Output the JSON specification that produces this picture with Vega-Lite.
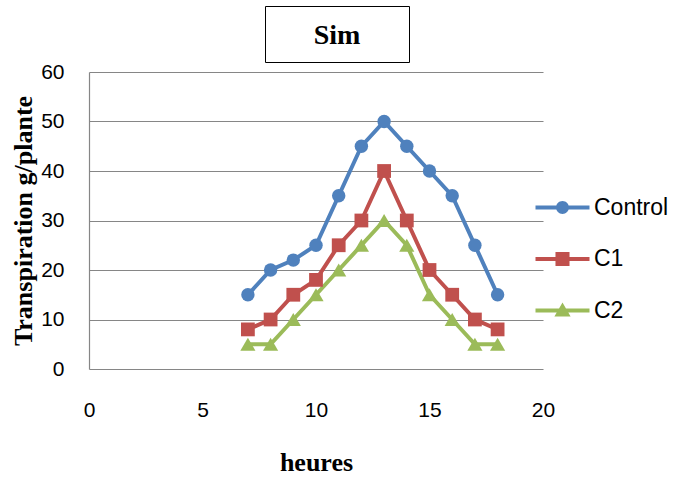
{
  "$schema": "https://vega.github.io/schema/vega-lite/v6.json",
  "width": 454,
  "height": 297,
  "autosize": {"type": "none"},
  "padding": {"left": 89, "top": 72, "right": 134, "bottom": 109},
  "background": "white",
  "config": {"view": {"stroke": null}},
  "data": {"values": [
    {"heures": 7, "val": 15, "serie": "Control"},
    {"heures": 8, "val": 20, "serie": "Control"},
    {"heures": 9, "val": 22, "serie": "Control"},
    {"heures": 10, "val": 25, "serie": "Control"},
    {"heures": 11, "val": 35, "serie": "Control"},
    {"heures": 12, "val": 45, "serie": "Control"},
    {"heures": 13, "val": 50, "serie": "Control"},
    {"heures": 14, "val": 45, "serie": "Control"},
    {"heures": 15, "val": 40, "serie": "Control"},
    {"heures": 16, "val": 35, "serie": "Control"},
    {"heures": 17, "val": 25, "serie": "Control"},
    {"heures": 18, "val": 15, "serie": "Control"},
    {"heures": 7, "val": 8, "serie": "C1"},
    {"heures": 8, "val": 10, "serie": "C1"},
    {"heures": 9, "val": 15, "serie": "C1"},
    {"heures": 10, "val": 18, "serie": "C1"},
    {"heures": 11, "val": 25, "serie": "C1"},
    {"heures": 12, "val": 30, "serie": "C1"},
    {"heures": 13, "val": 40, "serie": "C1"},
    {"heures": 14, "val": 30, "serie": "C1"},
    {"heures": 15, "val": 20, "serie": "C1"},
    {"heures": 16, "val": 15, "serie": "C1"},
    {"heures": 17, "val": 10, "serie": "C1"},
    {"heures": 18, "val": 8, "serie": "C1"},
    {"heures": 7, "val": 5, "serie": "C2"},
    {"heures": 8, "val": 5, "serie": "C2"},
    {"heures": 9, "val": 10, "serie": "C2"},
    {"heures": 10, "val": 15, "serie": "C2"},
    {"heures": 11, "val": 20, "serie": "C2"},
    {"heures": 12, "val": 25, "serie": "C2"},
    {"heures": 13, "val": 30, "serie": "C2"},
    {"heures": 14, "val": 25, "serie": "C2"},
    {"heures": 15, "val": 15, "serie": "C2"},
    {"heures": 16, "val": 10, "serie": "C2"},
    {"heures": 17, "val": 5, "serie": "C2"},
    {"heures": 18, "val": 5, "serie": "C2"}
  ]},
  "encoding": {
    "x": {
      "field": "heures", "type": "quantitative",
      "scale": {"domain": [0, 20], "nice": false, "zero": false},
      "axis": {
        "values": [0, 5, 10, 15, 20], "grid": false, "domain": false, "ticks": false,
        "labelFont": "Liberation Sans", "labelFontSize": 21, "labelColor": "black",
        "labelBaseline": "middle", "labelPadding": 41, "labelFlush": false,
        "title": "heures", "titleFont": "Liberation Serif", "titleFontSize": 26,
        "titleFontWeight": "bold", "titleColor": "black", "titleBaseline": "middle", "titleY": 93
      }
    },
    "y": {
      "field": "val", "type": "quantitative",
      "scale": {"domain": [0, 60], "nice": false},
      "axis": {
        "values": [0, 10, 20, 30, 40, 50, 60], "grid": true, "gridColor": "#868686", "gridWidth": 1.2,
        "domain": true, "domainColor": "#868686", "domainWidth": 1.2, "ticks": false,
        "labelFont": "Liberation Sans", "labelFontSize": 21, "labelColor": "black", "labelPadding": 25,
        "title": "Transpiration g/plante", "titleFont": "Liberation Serif", "titleFontSize": 26,
        "titleFontWeight": "bold", "titleColor": "black", "titleAngle": 270,
        "titleAlign": "center", "titleBaseline": "middle", "titleX": -66, "titleY": 148.5
      }
    }
  },
  "layer": [
    {
      "data": {"values": [{"titre": "Sim"}]},
      "mark": {"type": "point", "opacity": 0},
      "encoding": {
        "shape": {
          "field": "titre", "type": "nominal",
          "scale": {"domain": ["Sim"], "range": ["square"]},
          "legend": {
            "orient": "none", "legendX": 176, "legendY": -66,
            "title": "Sim", "titleFont": "Liberation Serif", "titleFontSize": 28,
            "titleFontWeight": "bold", "titleColor": "black", "titleOrient": "bottom",
            "titleAnchor": "middle", "titleAlign": "center", "titlePadding": 0,
            "symbolSize": 0, "symbolOpacity": 0, "symbolStrokeWidth": 0,
            "labelExpr": "''", "labelFontSize": 4, "labelOffset": 116,
            "strokeColor": "black", "fillColor": "white", "padding": 12,
            "encode": {"legend": {"update": {"strokeWidth": {"value": 2}}}}
          }
        }
      }
    },
    {
      "mark": {"type": "line", "strokeWidth": 4},
      "encoding": {
        "color": {
          "field": "serie", "type": "nominal",
          "scale": {"domain": ["Control", "C1", "C2"], "range": ["#4F81BD", "#C0504D", "#9BBB59"]},
          "legend": {
            "orient": "none", "legendX": 460, "legendY": 122, "title": null,
            "symbolSize": 729, "symbolStrokeWidth": 0, "rowPadding": 25.5, "labelOffset": 18,
            "labelFont": "Liberation Sans", "labelFontSize": 23, "labelColor": "black",
            "symbolOpacity": 1,
            "encode": {
              "symbols": {
                "update": {
                  "shape": {"signal": "datum.value === 'Control' ? 'M-2,-0.15H2V0.15H-2Z M-0.48,0A0.48,0.48 0 1,1 0.48,0A0.48,0.48 0 1,1 -0.48,0Z' : datum.value === 'C1' ? 'M-2,-0.15H2V0.15H-2Z M-0.52,-0.52H0.52V0.52H-0.52Z' : 'M-2,-0.15H2V0.15H-2Z M0,-0.6L0.6,0.45H-0.6Z'"},
                  "fill": {"scale": "color", "field": "value"},
                  "strokeWidth": {"value": 0},
                  "opacity": {"value": 1}
                }
              }
            }
          }
        },
        "detail": {"field": "serie"}
      }
    },
    {
      "transform": [{"filter": "datum.serie === 'Control'"}],
      "mark": {"type": "point", "shape": "circle", "filled": true, "opacity": 1, "size": 180},
      "encoding": {"color": {"field": "serie", "type": "nominal", "legend": null}}
    },
    {
      "transform": [{"filter": "datum.serie === 'C1'"}],
      "mark": {"type": "point", "shape": "square", "filled": true, "opacity": 1, "size": 190},
      "encoding": {"color": {"field": "serie", "type": "nominal", "legend": null}}
    },
    {
      "transform": [{"filter": "datum.serie === 'C2'"}],
      "mark": {"type": "point", "shape": "triangle-up", "filled": true, "opacity": 1, "size": 230},
      "encoding": {"color": {"field": "serie", "type": "nominal", "legend": null}}
    }
  ]
}
